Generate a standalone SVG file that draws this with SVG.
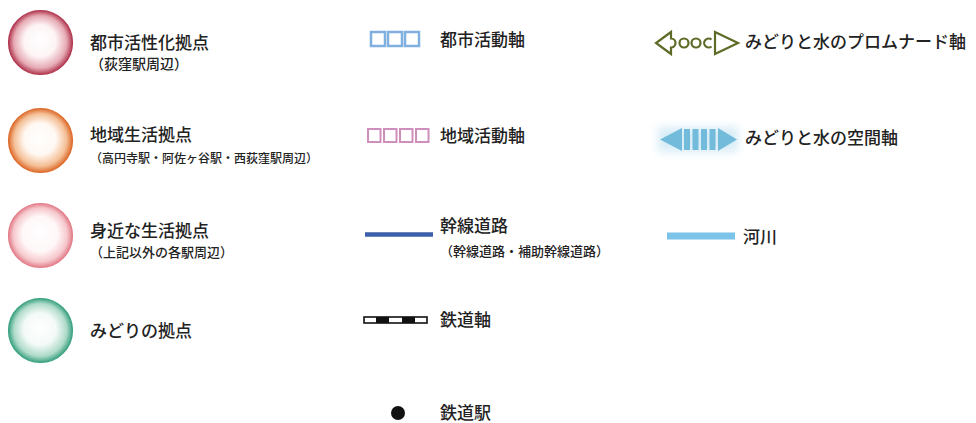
<svg xmlns="http://www.w3.org/2000/svg" width="976" height="423" viewBox="0 0 976 423">
  <defs>
    <radialGradient id="gRed" cx="50%" cy="50%" r="50%" fx="48%" fy="45%">
      <stop offset="0" stop-color="#ffffff"/>
      <stop offset="0.5" stop-color="#fdf4f5"/>
      <stop offset="0.82" stop-color="#e6aab4"/>
      <stop offset="1" stop-color="#b23a52"/>
    </radialGradient>
    <radialGradient id="gOrange" cx="50%" cy="50%" r="50%" fx="48%" fy="45%">
      <stop offset="0" stop-color="#ffffff"/>
      <stop offset="0.5" stop-color="#fff8f2"/>
      <stop offset="0.82" stop-color="#f4bf96"/>
      <stop offset="1" stop-color="#de6d2e"/>
    </radialGradient>
    <radialGradient id="gPink" cx="50%" cy="50%" r="50%" fx="48%" fy="45%">
      <stop offset="0" stop-color="#ffffff"/>
      <stop offset="0.55" stop-color="#fff7f8"/>
      <stop offset="0.84" stop-color="#f6c8cd"/>
      <stop offset="1" stop-color="#e37f8b"/>
    </radialGradient>
    <radialGradient id="gGreen" cx="50%" cy="50%" r="50%" fx="48%" fy="45%">
      <stop offset="0" stop-color="#ffffff"/>
      <stop offset="0.5" stop-color="#f4faf8"/>
      <stop offset="0.82" stop-color="#afdbca"/>
      <stop offset="1" stop-color="#3da383"/>
    </radialGradient>
    <filter id="glow" x="-30%" y="-60%" width="160%" height="220%">
      <feGaussianBlur stdDeviation="4"/>
    </filter>
  </defs>
  <style>
    text { font-family: "Noto Sans CJK JP", "Noto Sans CJK SC", sans-serif; fill: #222222; font-weight: 500; }
    .lbl { font-size: 17px; }
    .sub { font-size: 13px; }
    .node { stroke-width: 1.2; }
    .sqB { fill: none; stroke: #7fb0df; stroke-width: 2.5; }
    .sqP { fill: none; stroke: #cf8fbd; stroke-width: 2; }
    .prom { fill: none; stroke: #5c6b26; stroke-width: 2.2; stroke-linejoin: miter; }
  </style>
  <rect width="976" height="423" fill="#ffffff"/>

  <!-- Left column: hubs -->
  <g id="hub-urban">
    <circle cx="40.5" cy="42.5" r="32" fill="url(#gRed)" class="node" stroke="#b23a52"/>
    <text class="lbl" x="90" y="49">都市活性化拠点</text>
    <text class="sub" x="90" y="69" style="font-size:14px">（荻窪駅周辺）</text>
  </g>
  <g id="hub-local">
    <circle cx="40.5" cy="140.5" r="32" fill="url(#gOrange)" class="node" stroke="#de6d2e"/>
    <text class="lbl" x="90" y="141">地域生活拠点</text>
    <text class="sub" x="90" y="163" style="font-size:12px">（高円寺駅・阿佐ヶ谷駅・西荻窪駅周辺）</text>
  </g>
  <g id="hub-near">
    <circle cx="40.5" cy="235.5" r="32" fill="url(#gPink)" class="node" stroke="#e37f8b"/>
    <text class="lbl" x="90" y="237">身近な生活拠点</text>
    <text class="sub" x="90" y="257">（上記以外の各駅周辺）</text>
  </g>
  <g id="hub-green">
    <circle cx="40.5" cy="330.5" r="32" fill="url(#gGreen)" class="node" stroke="#3da383"/>
    <text class="lbl" x="90" y="337">みどりの拠点</text>
  </g>

  <!-- Middle column -->
  <g id="axis-urban">
    <rect class="sqB" x="371" y="32" width="14" height="14"/>
    <rect class="sqB" x="388" y="32" width="14" height="14"/>
    <rect class="sqB" x="405" y="32" width="14" height="14"/>
    <text class="lbl" x="440" y="46">都市活動軸</text>
  </g>
  <g id="axis-local">
    <rect class="sqP" x="368" y="129" width="12.5" height="13"/>
    <rect class="sqP" x="384" y="129" width="12.5" height="13"/>
    <rect class="sqP" x="400" y="129" width="12.5" height="13"/>
    <rect class="sqP" x="416" y="129" width="12.5" height="13"/>
    <text class="lbl" x="440" y="142">地域活動軸</text>
  </g>
  <g id="road">
    <line x1="365" y1="234.5" x2="433" y2="234.5" stroke="#3b5fa8" stroke-width="4.5"/>
    <text class="lbl" x="440" y="232">幹線道路</text>
    <text class="sub" x="440" y="256">（幹線道路・補助幹線道路）</text>
  </g>
  <g id="railway">
    <rect x="364" y="317" width="63" height="6" fill="#ffffff" stroke="#111111" stroke-width="1.6"/>
    <rect x="376" y="317" width="13" height="6" fill="#111111"/>
    <rect x="402" y="317" width="13" height="6" fill="#111111"/>
    <text class="lbl" x="440" y="326">鉄道軸</text>
  </g>
  <g id="station">
    <circle cx="398" cy="413" r="7" fill="#111111"/>
    <text class="lbl" x="440" y="419">鉄道駅</text>
  </g>

  <!-- Right column -->
  <g id="promenade">
    <path class="prom" d="M671 32 L656 43 L671 54 L671 47.5 A4.5 4.5 0 0 0 671 38.5 Z"/>
    <circle class="prom" cx="684" cy="43" r="4.5"/>
    <circle class="prom" cx="696" cy="43" r="4.5"/>
    <path class="prom" d="M711.5 39.5 A4.5 4.5 0 1 0 711.5 46.5"/>
    <path class="prom" d="M715 32 L738 43 L715 54 Z"/>
    <text class="lbl" x="745" y="48">みどりと水のプロムナード軸</text>
  </g>
  <g id="space-axis">
    <g filter="url(#glow)" opacity="0.45">
      <rect x="658" y="127" width="80" height="25" fill="#a9d6ec"/>
    </g>
    <g fill="#72bbdb">
      <path d="M682 128 L660 139.5 L682 151 Z"/>
      <rect x="684" y="129" width="6" height="21"/>
      <rect x="692.5" y="129" width="6" height="21"/>
      <rect x="701" y="129" width="6" height="21"/>
      <rect x="709.5" y="129" width="6" height="21"/>
      <path d="M718 128 L737 139.5 L718 151 Z"/>
    </g>
    <text class="lbl" x="745" y="144">みどりと水の空間軸</text>
  </g>
  <g id="river">
    <line x1="667" y1="236" x2="735" y2="236" stroke="#7cc3ea" stroke-width="7"/>
    <text class="lbl" x="743" y="243">河川</text>
  </g>
</svg>
